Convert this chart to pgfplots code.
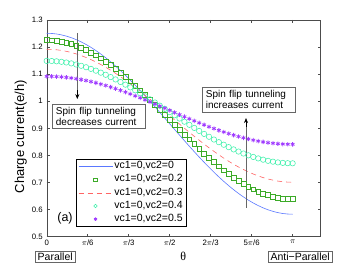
\documentclass[border=0pt]{standalone}
\usepackage{pgfplots}
\pgfplotsset{compat=1.18}
\usepackage{pgfplotstable}
\usetikzlibrary{arrows.meta}
\usepackage{fontspec}
\setmainfont{Liberation Sans}
\newfontfamily\serifgr{Liberation Serif}
\definecolor{cB}{RGB}{90,120,255}
\definecolor{cG}{RGB}{60,170,40}
\definecolor{cR}{RGB}{255,100,100}
\definecolor{cC}{RGB}{60,240,170}
\definecolor{cP}{RGB}{160,60,255}
\pgfplotstableread{
t B G R C P
0.0000 1.2510 1.2260 1.1920 1.1490 1.0920
0.0628 1.2503 1.2254 1.1915 1.1486 1.0918
0.1257 1.2484 1.2237 1.1901 1.1475 1.0910
0.1885 1.2451 1.2208 1.1877 1.1457 1.0898
0.2513 1.2405 1.2168 1.1843 1.1431 1.0881
0.3142 1.2347 1.2116 1.1800 1.1398 1.0859
0.3770 1.2275 1.2054 1.1748 1.1357 1.0832
0.4398 1.2192 1.1981 1.1686 1.1310 1.0801
0.5027 1.2097 1.1897 1.1616 1.1256 1.0765
0.5655 1.1990 1.1803 1.1538 1.1196 1.0725
0.6283 1.1872 1.1700 1.1451 1.1129 1.0680
0.6912 1.1744 1.1586 1.1357 1.1056 1.0632
0.7540 1.1605 1.1465 1.1255 1.0978 1.0580
0.8168 1.1456 1.1334 1.1146 1.0894 1.0524
0.8796 1.1299 1.1196 1.1030 1.0805 1.0465
0.9425 1.1133 1.1050 1.0908 1.0711 1.0403
1.0053 1.0960 1.0898 1.0780 1.0613 1.0337
1.0681 1.0779 1.0739 1.0648 1.0511 1.0270
1.1310 1.0592 1.0575 1.0510 1.0405 1.0199
1.1938 1.0400 1.0405 1.0369 1.0296 1.0127
1.2566 1.0202 1.0232 1.0224 1.0184 1.0053
1.3195 1.0001 1.0055 1.0076 1.0070 0.9977
1.3823 0.9796 0.9875 0.9925 0.9954 0.9900
1.4451 0.9589 0.9693 0.9773 0.9837 0.9822
1.5080 0.9380 0.9509 0.9619 0.9719 0.9744
1.5708 0.9170 0.9325 0.9465 0.9600 0.9665
1.6336 0.8960 0.9141 0.9311 0.9481 0.9586
1.6965 0.8751 0.8957 0.9157 0.9363 0.9508
1.7593 0.8544 0.8775 0.9005 0.9246 0.9430
1.8221 0.8339 0.8595 0.8854 0.9130 0.9353
1.8850 0.8138 0.8418 0.8706 0.9016 0.9277
1.9478 0.7940 0.8245 0.8561 0.8904 0.9203
2.0106 0.7748 0.8075 0.8420 0.8795 0.9131
2.0735 0.7561 0.7911 0.8282 0.8689 0.9060
2.1363 0.7380 0.7752 0.8150 0.8587 0.8993
2.1991 0.7207 0.7600 0.8022 0.8489 0.8927
2.2619 0.7041 0.7454 0.7900 0.8395 0.8865
2.3248 0.6884 0.7316 0.7784 0.8306 0.8806
2.3876 0.6735 0.7185 0.7675 0.8222 0.8750
2.4504 0.6596 0.7064 0.7573 0.8144 0.8698
2.5133 0.6468 0.6950 0.7479 0.8071 0.8650
2.5761 0.6350 0.6847 0.7392 0.8004 0.8605
2.6389 0.6243 0.6753 0.7314 0.7944 0.8565
2.7018 0.6148 0.6669 0.7244 0.7890 0.8529
2.7646 0.6065 0.6596 0.7182 0.7843 0.8498
2.8274 0.5993 0.6534 0.7130 0.7802 0.8471
2.8903 0.5935 0.6482 0.7087 0.7769 0.8449
2.9531 0.5889 0.6442 0.7053 0.7743 0.8432
3.0159 0.5856 0.6413 0.7029 0.7725 0.8420
3.0788 0.5837 0.6396 0.7015 0.7714 0.8412
3.1416 0.5830 0.6390 0.7010 0.7710 0.8410
}\datatab
\begin{document}
\begin{tikzpicture}
\useasboundingbox (0,0) rectangle (354pt,267pt);
\begin{axis}[
  at={(46.7pt,30.3pt)}, anchor=south west,
  scale only axis, width=274pt, height=216.7pt,
  xmin=0, xmax=3.5, ymin=0.5, ymax=1.3,
  axis line style={black!70},
  every tick/.style={black!70},
  tick align=inside, major tick length=3pt,
  xtick={0,0.5236,1.0472,1.5708,2.0944,2.6180,3.1416},
  xticklabels={0,$\pi$/6,$\pi$/3,$\pi$/2,2$\pi$/3,5$\pi$/6,$\pi$},
  ytick={0.5,0.6,0.7,0.8,0.9,1,1.1,1.2,1.3},
  /pgf/number format/assume math mode=true,
  tick label style={font=\fontsize{7.8}{9}\selectfont},
  yticklabel style={xshift=-0.5pt},
  every axis y label/.style={at={(axis description cs:-0.095,0.462)},rotate=90,anchor=center},
  every axis x label/.style={at={(axis description cs:0.4985,-0.089)},anchor=center},
  ylabel={\fontsize{13}{15}\selectfont Charge current(e/h)},
  xlabel={\fontsize{12}{14}\selectfont\serifgr θ},
  legend style={at={(axis description cs:0.107,0.046)}, anchor=south west,
    draw=black, inner xsep=2pt, inner ysep=1.5pt,
    row sep=1.3pt, cells={anchor=west},
    nodes={inner xsep=1.5pt, inner ysep=2pt, font=\fontsize{10.5}{12}\selectfont, text height=6pt, text depth=1.8pt}},
  legend image code/.code={\draw[mark repeat=2,mark phase=2,#1,mark size=1.8pt] plot coordinates {(0pt,0pt) (17pt,0pt) (34pt,0pt)};},
  legend cell align=left,
]
\addplot[cB, line width=0.6pt] table[x=t,y=B]{\datatab};
\addlegendentry{vc1=0,vc2=0}
\addplot[cG, only marks, mark=square, mark size=2.4pt, mark options={line width=0.55pt}] table[x=t,y=G]{\datatab};
\addlegendentry{vc1=0,vc2=0.2}
\addplot[cR, line width=0.6pt, dash pattern=on 5pt off 4pt] table[x=t,y=R]{\datatab};
\addlegendentry{vc1=0,vc2=0.3}
\addplot[cC, only marks, mark=o, mark size=2.7pt, mark options={line width=0.55pt}] table[x=t,y=C]{\datatab};
\addlegendentry{vc1=0,vc2=0.4}
\addplot[cP, only marks, mark=asterisk, mark size=2.2pt, mark options={line width=0.8pt}] table[x=t,y=P]{\datatab};
\addlegendentry{vc1=0,vc2=0.5}
% annotations
\draw[black!60, line width=0.6pt] (axis cs:0.391,1.252) -- (axis cs:0.391,1.02);
\draw[black, -{Stealth[length=5pt,width=4pt]}, line width=0.6pt] (axis cs:0.391,1.04) -- (axis cs:0.391,1.008);
\draw[black!60, line width=0.6pt] (axis cs:2.546,0.606) -- (axis cs:2.546,0.925);
\draw[black, -{Stealth[length=5pt,width=4pt]}, line width=0.6pt] (axis cs:2.546,0.905) -- (axis cs:2.546,0.938);
\node[draw=black!60, fill=white, anchor=north west, align=left, inner xsep=4pt, inner ysep=3pt,
  text width=85pt, font=\fontsize{10}{11}\selectfont] at (axis cs:0.064,0.990)
  {Spin flip tunneling\\decreases current};
\node[draw=black!60, fill=white, anchor=north west, align=left, inner xsep=4pt, inner ysep=3pt,
  text width=85pt, font=\fontsize{10}{11}\selectfont] at (axis cs:1.980,1.0516)
  {Spin flip tunneling\\increases current};
\node[font=\fontsize{12.5}{14}\selectfont, anchor=center] at (axis cs:0.234,0.569) {(a)};
\end{axis}
\node[draw=black!60, font=\fontsize{10.5}{12}\selectfont, inner sep=2pt, anchor=center] at (55.2pt,10.2pt) {Parallel};
\node[draw=black!60, font=\fontsize{10.5}{12}\selectfont, inner sep=2pt, anchor=center] at (300.2pt,10.2pt) {Anti\textminus Parallel};
\end{tikzpicture}
\end{document}
